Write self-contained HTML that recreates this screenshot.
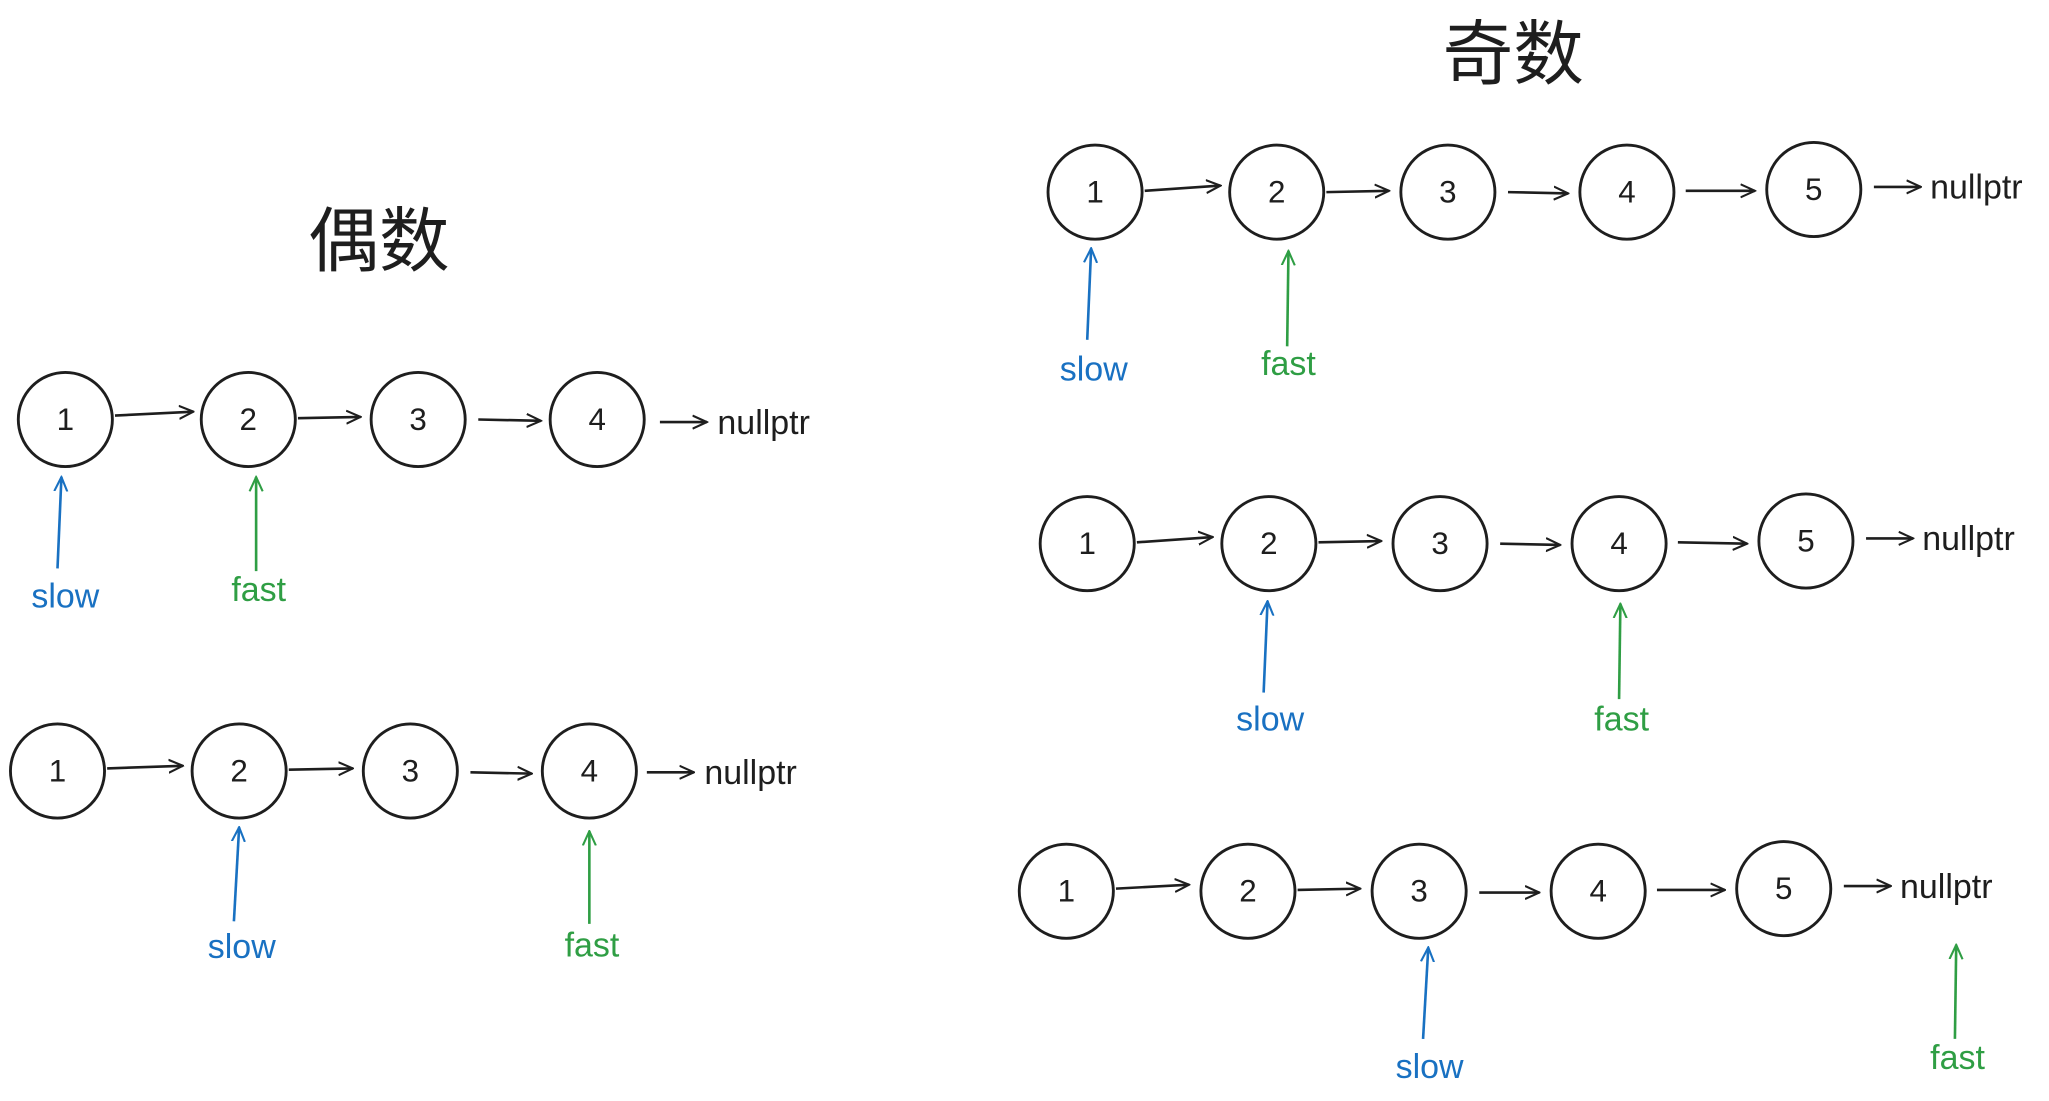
<!DOCTYPE html>
<html><head><meta charset="utf-8"><style>
html,body{margin:0;padding:0;background:#fff;}
svg{display:block;}
text{font-family:"Liberation Sans","Noto Sans CJK SC",sans-serif;}
</style></head><body>
<svg width="2049" height="1101" viewBox="0 0 1568 842.5" xmlns="http://www.w3.org/2000/svg">
<defs>
<marker id="ak" viewBox="0 0 12 12" refX="11" refY="6" markerWidth="12" markerHeight="12" markerUnits="userSpaceOnUse" orient="auto"><path d="M0,1 L11,6 L0,11" fill="none" stroke="#1e1e1e" stroke-width="1.6"/></marker>
<marker id="ab" viewBox="0 0 12 12" refX="11" refY="6" markerWidth="12" markerHeight="12" markerUnits="userSpaceOnUse" orient="auto"><path d="M0,1 L11,6 L0,11" fill="none" stroke="#1971c2" stroke-width="1.6"/></marker>
<marker id="ag" viewBox="0 0 12 12" refX="11" refY="6" markerWidth="12" markerHeight="12" markerUnits="userSpaceOnUse" orient="auto"><path d="M0,1 L11,6 L0,11" fill="none" stroke="#2f9e44" stroke-width="1.6"/></marker>
</defs>
<text x="290" y="203" font-size="54" text-anchor="middle" fill="#1e1e1e">偶数</text>
<text x="1158" y="60" font-size="54" text-anchor="middle" fill="#1e1e1e">奇数</text>

<g fill="none" stroke="#1e1e1e" stroke-width="2.2">
<!-- even row 1 -->
<circle cx="50" cy="321" r="36"/><circle cx="190" cy="321" r="36"/><circle cx="320" cy="321" r="36"/><circle cx="457" cy="321" r="36"/>
<!-- even row 2 -->
<circle cx="44" cy="590" r="36"/><circle cx="183" cy="590" r="36"/><circle cx="314" cy="590" r="36"/><circle cx="451" cy="590" r="36"/>
<!-- odd row 1 -->
<circle cx="838" cy="147" r="36"/><circle cx="977" cy="147" r="36"/><circle cx="1108" cy="147" r="36"/><circle cx="1245" cy="147" r="36"/><circle cx="1388" cy="145" r="36"/>
<!-- odd row 2 -->
<circle cx="832" cy="416" r="36"/><circle cx="971" cy="416" r="36"/><circle cx="1102" cy="416" r="36"/><circle cx="1239" cy="416" r="36"/><circle cx="1382" cy="414" r="36"/>
<!-- odd row 3 -->
<circle cx="816" cy="682" r="36"/><circle cx="955" cy="682" r="36"/><circle cx="1086" cy="682" r="36"/><circle cx="1223" cy="682" r="36"/><circle cx="1365" cy="680" r="36"/>
</g>

<g fill="none" stroke="#1e1e1e" stroke-width="2" marker-end="url(#ak)">
<line x1="88" y1="318" x2="148" y2="315"/><line x1="228" y1="320" x2="276" y2="319"/><line x1="366" y1="321" x2="414" y2="322"/><line x1="505" y1="323" x2="541" y2="323"/>
<line x1="82" y1="588" x2="140" y2="586"/><line x1="221" y1="589" x2="270" y2="588"/><line x1="360" y1="591" x2="407" y2="592"/><line x1="495" y1="591" x2="531" y2="591"/>
<line x1="876" y1="146" x2="934" y2="142"/><line x1="1015" y1="147" x2="1063" y2="146"/><line x1="1154" y1="147" x2="1200" y2="148"/><line x1="1290" y1="146" x2="1343" y2="146"/><line x1="1434" y1="143" x2="1470" y2="143"/>
<line x1="870" y1="415" x2="928" y2="411"/><line x1="1009" y1="415" x2="1057" y2="414"/><line x1="1148" y1="416" x2="1194" y2="417"/><line x1="1284" y1="415" x2="1337" y2="416"/><line x1="1428" y1="412" x2="1464" y2="412"/>
<line x1="854" y1="680" x2="910" y2="677"/><line x1="993" y1="681" x2="1041" y2="680"/><line x1="1132" y1="683" x2="1178" y2="683"/><line x1="1268" y1="681" x2="1320" y2="681"/><line x1="1411" y1="678" x2="1447" y2="678"/>
</g>

<g font-size="24" text-anchor="middle" fill="#1e1e1e">
<text x="50" y="329">1</text><text x="190" y="329">2</text><text x="320" y="329">3</text><text x="457" y="329">4</text>
<text x="44" y="598">1</text><text x="183" y="598">2</text><text x="314" y="598">3</text><text x="451" y="598">4</text>
<text x="838" y="155">1</text><text x="977" y="155">2</text><text x="1108" y="155">3</text><text x="1245" y="155">4</text><text x="1388" y="153">5</text>
<text x="832" y="424">1</text><text x="971" y="424">2</text><text x="1102" y="424">3</text><text x="1239" y="424">4</text><text x="1382" y="422">5</text>
<text x="816" y="690">1</text><text x="955" y="690">2</text><text x="1086" y="690">3</text><text x="1223" y="690">4</text><text x="1365" y="688">5</text>
</g>
<g font-size="26" fill="#1e1e1e">
<text x="549" y="332">nullptr</text>
<text x="539" y="600">nullptr</text>
<text x="1477" y="152">nullptr</text>
<text x="1471" y="421">nullptr</text>
<text x="1454" y="687">nullptr</text>
</g>

<g fill="none" stroke="#1971c2" stroke-width="2" marker-end="url(#ab)">
<line x1="44" y1="435" x2="47" y2="365"/>
<line x1="179" y1="705" x2="183" y2="633"/>
<line x1="832" y1="260" x2="835" y2="190"/>
<line x1="967" y1="530" x2="970" y2="460"/>
<line x1="1089" y1="795" x2="1093" y2="725"/>
</g>
<g fill="none" stroke="#2f9e44" stroke-width="2" marker-end="url(#ag)">
<line x1="196" y1="437" x2="196" y2="365"/>
<line x1="451" y1="707" x2="451" y2="636"/>
<line x1="985" y1="265" x2="986" y2="192"/>
<line x1="1239" y1="535" x2="1240" y2="462"/>
<line x1="1496" y1="795" x2="1497" y2="723"/>
</g>
<g font-size="26" text-anchor="middle" fill="#1971c2">
<text x="50" y="465">slow</text>
<text x="185" y="733">slow</text>
<text x="837" y="291">slow</text>
<text x="972" y="559">slow</text>
<text x="1094" y="825">slow</text>
</g>
<g font-size="26" text-anchor="middle" fill="#2f9e44">
<text x="198" y="460">fast</text>
<text x="453" y="732">fast</text>
<text x="986" y="287">fast</text>
<text x="1241" y="559">fast</text>
<text x="1498" y="818">fast</text>
</g>
</svg>
</body></html>
